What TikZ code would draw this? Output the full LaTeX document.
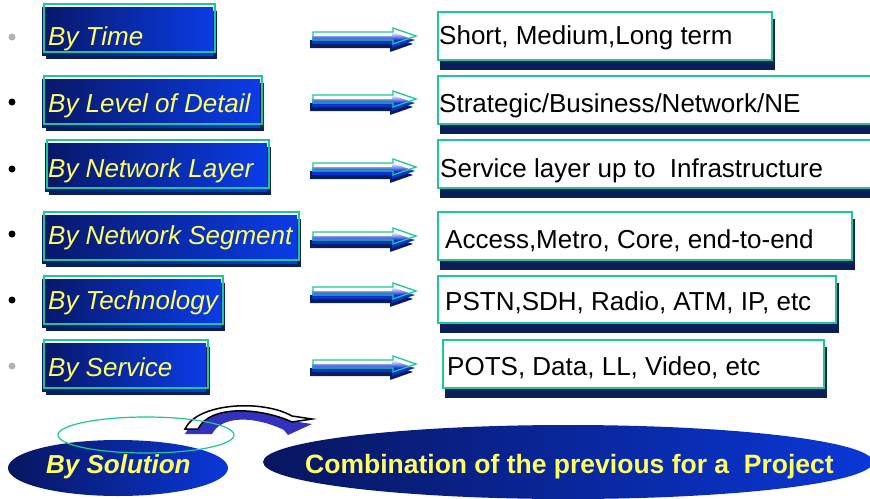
\documentclass[tikz,border=0pt]{standalone}
\usepackage{fontspec}
\setmainfont{Liberation Sans}
\definecolor{grn}{RGB}{30,200,150}
\definecolor{navy}{RGB}{10,30,90}
\definecolor{bdark}{RGB}{8,24,105}
\definecolor{bbright}{RGB}{10,60,230}
\definecolor{ylw}{RGB}{255,255,100}
\definecolor{arrblue}{RGB}{10,50,210}
\definecolor{curvblue}{RGB}{50,50,190}
\definecolor{edark}{RGB}{8,22,95}
\definecolor{ebright}{RGB}{10,55,215}
\newcommand{\leftbox}[6]{% gx1 gy1 gx2 gy2 baseline name
  \fill[navy] ({#1+2},{#2+7}) rectangle ({#3+2},{#4+7});
  \shade[left color=bdark,right color=bbright] ({#1-2},{#2+3}) rectangle ({#3-2},{#4+3});
  \draw[grnline] (#1,#2) rectangle (#3,#4);
  \node[ltext] (#6) at (48,#5) {\leftlabel};}
\newcommand{\rightbox}[4]{%
  \fill[navy] ({#1+2},{#2+7}) rectangle ({#3+3},{#4+10});
  \draw[grnline,fill=white] (#1,#2) rectangle (#3,#4);}
\newcommand{\flatarrowshape}{(313,-4) -- (393,-4) -- (393,-8) -- (416,0) -- (393,8) -- (393,4) -- (313,4) -- cycle}
\newcommand{\flatarrow}[1]{%
  \fill[navy] [shift={(-3,{#1+8})}] \flatarrowshape;
  \shade[top color=white,bottom color=arrblue,middle color=arrblue] [shift={(-1,{#1+4})}] \flatarrowshape;
  \draw[grnline] [shift={(0,#1)}] \flatarrowshape;}
\begin{document}
\begin{tikzpicture}[x=1pt,y=-1pt,
  ltext/.style={anchor=base west,inner sep=0,text=ylw,font=\fontsize{26}{30}\selectfont\itshape},
  rtext/.style={anchor=base west,inner sep=0,text=black,font=\fontsize{26}{30}\selectfont},
  btext/.style={anchor=base west,inner sep=0,text=ylw,font=\fontsize{26.5}{30}\selectfont\bfseries},
  grnline/.style={draw=grn,line width=1.3pt},
  bullet/.style={circle,inner sep=0,minimum size=7pt}]
\useasboundingbox (0,0) rectangle (870,498);
\clip (0,0) rectangle (870,498);

% bullets
\node[bullet,fill=black!30] (b1) at (12,37) {};
\node[bullet,fill=black] (b2) at (12,102) {};
\node[bullet,fill=black] (b3) at (12,169) {};
\node[bullet,fill=black] (b4) at (12,234) {};
\node[bullet,fill=black] (b5) at (12,300) {};
\node[bullet,fill=black!30] (b6) at (12,366) {};

% left boxes
\def\leftlabel{By Time}\leftbox{44}{4}{215}{52}{45}{l1}
\def\leftlabel{By Level of Detail}\leftbox{44}{76}{262}{124}{112}{l2}
\def\leftlabel{By Network Layer}\leftbox{47}{140}{269}{188}{177}{l3}
\def\leftlabel{By Network Segment}\leftbox{44}{212}{299}{260}{244}{l4}
\def\leftlabel{By Technology}\leftbox{44}{276}{223}{324}{309}{l5}
\def\leftlabel{By Service}\leftbox{44}{340}{208}{388}{376}{l6}

% arrows
\flatarrow{36}
\flatarrow{99}
\flatarrow{167}
\flatarrow{236}
\flatarrow{291}
\flatarrow{364}

% right boxes
\rightbox{438}{12}{772}{60}
\node[rtext] (r1) at (439,44) {Short, Medium,Long term};
\rightbox{438}{76}{900}{124}
\node[rtext] (r2) at (439,112) {Strategic/Business/Network/NE};
\rightbox{438}{140}{900}{188}
\node[rtext] (r3) at (440,177) {Service layer up to\ \ Infrastructure};
\rightbox{438}{212}{852}{260}
\node[rtext] (r4) at (445,248) {Access,Metro, Core, end-to-end};
\rightbox{438}{276}{836}{323}
\node[rtext] (r5) at (445,310) {PSTN,SDH, Radio, ATM, IP, etc};
\rightbox{443}{340}{824}{388}
\node[rtext] (r6) at (447,375) {POTS, Data, LL, Video, etc};

% bottom ellipses
\shade[left color=edark,right color=ebright] (118,468) ellipse [x radius=110pt, y radius=28pt];
\node[btext,font=\fontsize{26}{30}\selectfont\bfseries\itshape] (sol) at (46,473) {By Solution};
\shade[left color=edark,right color=ebright] (568,462) ellipse [x radius=305pt, y radius=37pt];
\node[btext] (comb) at (305,473) {Combination of the previous for a\ \ Project};

% curved arrow
\newcommand{\curveshape}{(185,431) .. controls (197,405) and (262,401) .. (292,418) -- (312,421) -- (288,432) -- (284,427) .. controls (255,413) and (222,412) .. (212,431) -- cycle}
\fill[curvblue] [shift={(0,3)}] \curveshape;
\draw[black,line width=1.5pt,line join=miter,fill=white] [shift={(0,-2)}] (185,431) .. controls (197,405) and (262,401) .. (292,418) -- (312,421) -- (292,424) .. controls (262,410) and (210,406) .. (198,431) -- cycle;

% green ellipse
\draw[grnline,line width=1.2pt] (146,435) ellipse [x radius=88pt, y radius=18pt];
\end{tikzpicture}
\end{document}
